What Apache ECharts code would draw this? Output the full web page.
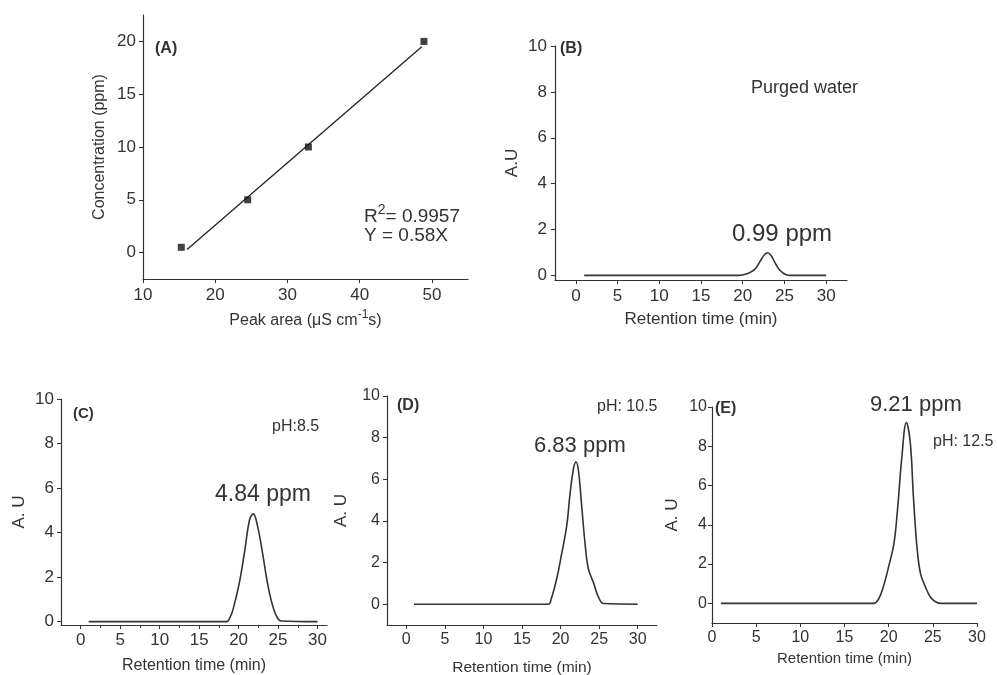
<!DOCTYPE html>
<html><head><meta charset="utf-8">
<script src="https://cdn.jsdelivr.net/npm/echarts@6/dist/echarts.min.js"></script>
<style>html,body{margin:0;padding:0;background:#fff}#c{width:997px;height:675px}</style>
</head><body><div id="c"></div>
<script>
// ---------- data ----------
// (A) calibration
const calibArea = [15.3, 24.5, 32.9, 48.9];
const calibConc = [0.5, 5, 10, 20];
const fitArea = [16.1, 48.6];
const fitConc = [0.3, 19.5];
// (B) purged water
const tB = [1, 19.5, 20.5, 21.4, 22.2, 22.6, 23.0, 23.4, 23.8, 24.4, 25.2, 25.8, 30];
const yB = [0, 0, 0.07, 0.25, 0.68, 0.9, 0.99, 0.87, 0.6, 0.25, 0.03, 0, 0];
// (C) pH 8.5
const tC = [1, 18.5, 18.9, 19.3, 20.1, 20.8, 21.4, 21.85, 22.4, 23.1, 23.5, 24.1, 24.8, 25.4, 30];
const yC = [0, 0, 0.18, 0.55, 1.75, 3.24, 4.59, 4.84, 4.29, 2.94, 2.05, 1.0, 0.25, 0.03, 0];
// (D) pH 10.5
const tD = [1, 18.4, 18.8, 19.5, 20.1, 20.8, 21.2, 21.65, 22.0, 22.3, 22.7, 23.2, 23.6, 24.3, 24.9, 25.6, 30];
const yD = [0, 0, 0.27, 1.22, 2.34, 3.77, 5.2, 6.47, 6.83, 6.47, 4.88, 2.81, 1.7, 1.0, 0.35, 0.03, 0];
// (E) pH 12.5
const tE = [1, 18.3, 18.9, 19.4, 20.0, 20.6, 21.0, 21.5, 22.0, 22.45, 22.8, 23.2, 23.6, 24.15, 24.7, 25.3, 25.85, 30];
const yE = [0, 0, 0.26, 0.85, 1.87, 3.06, 4.76, 7.48, 9.21, 8.16, 5.44, 2.89, 1.53, 0.85, 0.34, 0.08, 0, 0];
// tick labels
const ticksAx = [10, 20, 30, 40, 50];
const ticksAy = [0, 5, 10, 15, 20];
const ticksT = [0, 5, 10, 15, 20, 25, 30];
const minorT = [2.5, 7.5, 12.5, 17.5, 22.5, 27.5];
const ticksAU = [0, 2, 4, 6, 8, 10];

// ---------- styling ----------
const FONT = 'Liberation Sans, Arial, sans-serif';
const INK = '#333333';
const zip = (xs, ys) => xs.map((x, i) => [x, ys[i]]);

function axis(kind, gi, min, max, ticks, o) {
  return {
    type: 'value', gridIndex: gi, min: min, max: max,
    position: kind === 'x' ? 'bottom' : 'left',
    axisLine: { show: o.line !== false, onZero: false, lineStyle: { color: INK, width: 1.2 } },
    axisTick: { show: true, inside: false, length: o.tickLen || 4, customValues: ticks, lineStyle: { color: INK, width: 1 } },
    axisLabel: { show: o.label !== false, customValues: ticks, margin: o.margin || 7, fontSize: o.fs || 16, color: INK, fontFamily: FONT },
    splitLine: { show: false },
    name: o.name || '', nameLocation: 'middle', nameGap: o.gap || 30, nameMoveOverlap: false,
    nameTextStyle: Object.assign({ fontSize: o.nfs || 16, color: INK, fontFamily: FONT }, o.nts || {})
  };
}

const grids = [
  { left: 143, top: 15, width: 325, height: 264 },
  { left: 555, top: 46, width: 292, height: 234 },
  { left: 61, top: 399, width: 266, height: 226 },
  { left: 387, top: 396, width: 270, height: 229 },
  { left: 712, top: 407, width: 265, height: 216 }
].map(g => Object.assign({ containLabel: false, outerBoundsMode: 'none' }, g));

const xAxes = [
  axis('x', 0, 10, 55, ticksAx, { fs: 17, margin: 8, name: '{m|Peak area (μS cm}{s|-1}{m|s)}', gap: 30,
    nts: { rich: { m: { fontSize: 16, fontFamily: FONT, color: INK, verticalAlign: 'bottom' },
                   s: { fontSize: 12, fontFamily: FONT, color: INK, verticalAlign: 'bottom', padding: [0, 0, 8, 0] } } } }),
  axis('x', 1, -2.5, 32.5, ticksT, { fs: 17, margin: 8, name: 'Retention time (min)', nfs: 17, gap: 31 }),
  axis('x', 2, -2.5, 31.2, ticksT, { fs: 17, margin: 7, name: 'Retention time (min)', gap: 33 }),
  axis('x', 3, -2.5, 32.5, ticksT, { fs: 16, margin: 7, name: 'Retention time (min)', nfs: 15.5, gap: 35 }),
  axis('x', 4, 0, 30, ticksT, { fs: 16, margin: 7, name: 'Retention time (min)', nfs: 15, gap: 28 }),
  axis('x', 2, -2.5, 31.2, minorT, { line: false, label: false, tickLen: 3 })
];
const yAxes = [
  axis('y', 0, -2.5, 22.5, ticksAy, { fs: 17, margin: 7, name: 'Concentration (ppm)', gap: 35 }),
  axis('y', 1, -0.2, 10, ticksAU, { fs: 17, margin: 8, name: 'A.U', nfs: 17, gap: 34 }),
  axis('y', 2, -0.15, 10, ticksAU, { fs: 17, margin: 7, name: 'A. U', nfs: 17, gap: 33 }),
  axis('y', 3, -1, 10, ticksAU, { fs: 16, margin: 7, name: 'A. U', nfs: 17, gap: 37 }),
  axis('y', 4, -1, 10, ticksAU, { fs: 16, margin: 5, name: 'A. U', nfs: 17, gap: 31 })
];

const lineS = (gi, data) => ({
  type: 'line', xAxisIndex: gi, yAxisIndex: gi, data: data, smooth: 0.4,
  showSymbol: false, symbol: 'none', lineStyle: { color: INK, width: 1.6 }, silent: true, z: 3
});

const series = [
  { type: 'line', xAxisIndex: 0, yAxisIndex: 0, data: zip(fitArea, fitConc), showSymbol: false, symbol: 'none',
    lineStyle: { color: '#222', width: 1.3 }, silent: true },
  { type: 'scatter', xAxisIndex: 0, yAxisIndex: 0, data: zip(calibArea, calibConc), symbol: 'rect', symbolSize: 7,
    itemStyle: { color: '#111' }, z: 4 },
  lineS(1, zip(tB, yB)),
  lineS(2, zip(tC, yC)),
  lineS(3, zip(tD, yD)),
  lineS(4, zip(tE, yE))
];

const txt = (x, y, text, size, bold, extra) => ({
  type: 'text', x: x, y: y, silent: true,
  style: Object.assign({ text: text, fill: INK, fontSize: size, fontFamily: FONT, fontWeight: bold ? 'bold' : 'normal',
    align: 'left', verticalAlign: 'middle' }, extra || {})
});

const graphic = [
  txt(155, 49, '(A)', 16, true),
  txt(364, 215, '{m|R}{s|2}{m|= 0.9957}', 19, false, {
    rich: { m: { fontSize: 19, fontFamily: FONT, fill: INK, verticalAlign: 'bottom' },
            s: { fontSize: 14, fontFamily: FONT, fill: INK, verticalAlign: 'bottom', padding: [0, 0, 9, 0] } } }),
  txt(364, 236, 'Y = 0.58X', 19, false),
  txt(560, 49, '(B)', 16, true),
  txt(751, 88, 'Purged water', 18, false),
  txt(732, 234, '0.99 ppm', 24, false),
  txt(73, 414, '(C)', 15, true),
  txt(272, 427, 'pH:8.5', 16, false),
  txt(215, 495, '4.84 ppm', 23, false),
  txt(397, 406, '(D)', 16, true),
  txt(597, 407, 'pH: 10.5', 16, false),
  txt(534, 446, '6.83 ppm', 22, false),
  txt(715, 409, '(E)', 16, true),
  txt(870, 405, '9.21 ppm', 22, false),
  txt(933, 442, 'pH: 12.5', 16, false)
];

const chart = echarts.init(document.getElementById('c'), null, { renderer: 'canvas' });
chart.setOption({
  animation: false,
  backgroundColor: '#ffffff',
  grid: grids, xAxis: xAxes, yAxis: yAxes, series: series, graphic: graphic
});
</script></body></html>
